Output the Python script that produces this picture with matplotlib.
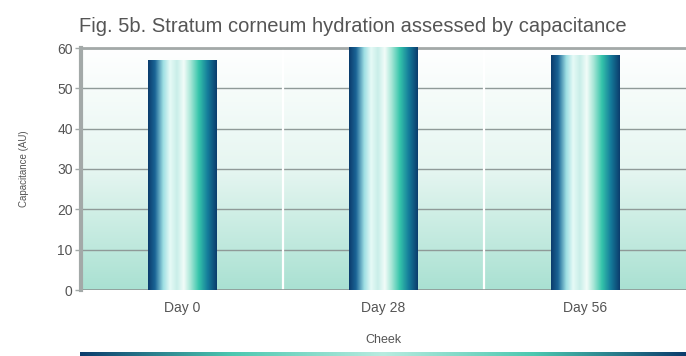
import numpy as np
import matplotlib
matplotlib.use("Agg")
import matplotlib.pyplot as plt
from matplotlib.colors import LinearSegmentedColormap

plt.rcParams["font.family"] = ["Liberation Sans", "DejaVu Sans"]

# data
categories = ["Day 0", "Day 28", "Day 56"]
capacitance = [57.0, 60.2, 58.3]
y_ticks = [0, 10, 20, 30, 40, 50, 60]
title = "Fig. 5b. Stratum corneum hydration assessed by capacitance"
y_label = "Capacitance (AU)"
legend_label = "Cheek"

TEXT = "#555555"
GRID = "#8f9a98"
SPINE = "#a3a9a8"

bar_cmap = LinearSegmentedColormap.from_list("bar", [
    (0.00, "#0b3c6c"), (0.10, "#1a6496"), (0.22, "#9ddfe3"),
    (0.32, "#e6faf6"), (0.42, "#c9eee9"), (0.52, "#f2fcf9"),
    (0.62, "#a6e6d6"), (0.74, "#34c4aa"), (0.87, "#147a9a"),
    (1.00, "#0b3c6c")])
bg_cmap = LinearSegmentedColormap.from_list("bg", ["#ffffff", "#e6f6f1", "#a9e1d2"])
leg_cmap = LinearSegmentedColormap.from_list("leg", ["#0b3c6c", "#4cc8b0", "#b8ece0", "#4cc8b0", "#0b3c6c"])

fig = plt.figure(figsize=(6.86, 3.56), dpi=100, facecolor="white")
ax = fig.add_axes([81 / 686, 66 / 356, 605 / 686, 242 / 356])

# background gradient (white at top, teal at bottom)
grad = np.linspace(0, 1, 256).reshape(-1, 1)
ax.imshow(grad, cmap=bg_cmap, aspect="auto", extent=(-0.5, 2.5, 0, 60),
          origin="upper", zorder=0)

# category separators
for xs in [0.5, 1.5]:
    ax.axvline(xs, color="white", linewidth=1.6, zorder=1)

ax.set_yticks(y_ticks)
ax.yaxis.grid(True, color=GRID, linewidth=1.0, zorder=1)
ax.set_axisbelow(True)

x = np.arange(len(categories))
bars = ax.bar(x, capacitance, width=0.34, color="none", zorder=3)
hgrad = np.linspace(0, 1, 256).reshape(1, -1)
for b in bars:
    x0, w, h = b.get_x(), b.get_width(), b.get_height()
    im = ax.imshow(hgrad, cmap=bar_cmap, aspect="auto",
                   extent=(x0, x0 + w, 0, h), zorder=3)
    im.set_clip_path(b)
ax.set_xlim(-0.5, 2.5)
ax.set_ylim(0, 60)

for s in ["right", "bottom"]:
    ax.spines[s].set_visible(False)
ax.spines["left"].set_color(SPINE)
ax.spines["left"].set_linewidth(3)
ax.spines["top"].set_color(SPINE)
ax.spines["top"].set_linewidth(2)
ax.axhline(0, color=GRID, linewidth=1.2, zorder=2)

ax.set_xticks(x)
ax.set_xticklabels(categories)
ax.tick_params(axis="x", length=0, pad=8, labelsize=10, colors=TEXT)
ax.tick_params(axis="y", length=4, width=1, color=SPINE, pad=2,
               labelsize=10, colors=TEXT)
ax.set_ylabel(y_label, fontsize=7, color=TEXT, labelpad=20)

fig.text(79 / 686, 1 - 27 / 356, title, fontsize=14.5, color=TEXT,
         ha="left", va="center")

# legend label and swatch at the bottom
fig.text(383 / 686, 1 - 340 / 356, legend_label, fontsize=9, color=TEXT,
         ha="center", va="center")
lax = fig.add_axes([80 / 686, 0, 606 / 686, 4 / 356])
lax.imshow(hgrad, cmap=leg_cmap, aspect="auto")
lax.axis("off")

fig.savefig("out.png", dpi=100, facecolor="white")
